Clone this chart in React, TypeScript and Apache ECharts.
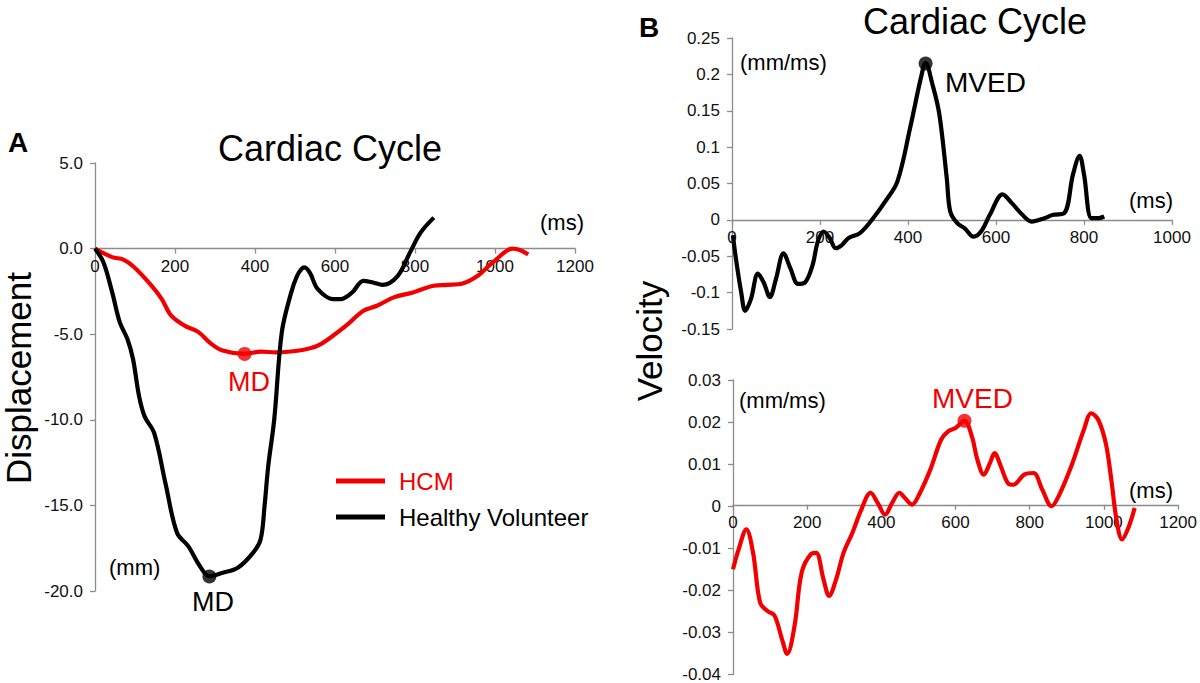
import React, { useEffect, useRef } from "react";
import * as echarts from "echarts";

const FONT = "'Liberation Sans', Arial, Helvetica, sans-serif";
const RED = "#f20000";
const BLACK = "#000000";
const AXIS = "#8c8c8c";

// Panel A: displacement (mm) vs time (ms)
const hcmDisplacement: [number, number][] = [
  [0, 0], [43, -0.5], [71, -0.64], [96, -1.05], [138, -2.08], [167, -2.95], [190, -3.9],
  [224, -4.5], [257, -4.85], [290, -5.55], [319, -5.95], [374, -6.15], [414, -6.02],
  [452, -6.06], [519, -5.92], [557, -5.67], [595, -5.09], [633, -4.4], [671, -3.63],
  [705, -3.34], [747, -2.85], [795, -2.56], [847, -2.17], [881, -2.12], [919, -2.04],
  [957, -1.59], [987, -0.95], [1005, -0.6], [1025, -0.2], [1043, 0], [1062, -0.08], [1083, -0.35],
];
const healthyDisplacement: [number, number][] = [
  [0, 0], [21, -0.8], [43, -2.56], [62, -4.31], [81, -5.28], [95, -6.45], [110, -8.6],
  [124, -9.8], [148, -10.78], [176, -13.69], [205, -16.6], [233, -17.38], [262, -18.54],
  [286, -19.13], [319, -18.93], [357, -18.64], [395, -17.77], [414, -16.99], [424, -15],
  [433, -12.72], [448, -10], [467, -4.89], [490, -2.6], [505, -1.6], [516, -1.2], [524, -1.1],
  [538, -1.45], [557, -2.37], [595, -2.95], [614, -2.95], [643, -2.56], [671, -1.88], [695, -1.98],
  [719, -2.12], [757, -1.59], [787, -0.25], [814, 0.93], [847, 1.81],
];
const mdHcm: [number, number] = [374, -6.15];
const mdHealthy: [number, number] = [286, -19.15];

// Panel B: velocity (mm/ms) vs time (ms)
const healthyVelocity: [number, number][] = [
  [2, -0.021], [10, -0.058], [21, -0.1], [30, -0.125], [43, -0.109], [59, -0.074],
  [72, -0.086], [86, -0.106], [100, -0.081], [117, -0.046], [133, -0.067], [150, -0.088],
  [166, -0.086], [183, -0.0625], [195, -0.03], [208, -0.016], [222, -0.025], [236, -0.039],
  [249, -0.035], [265, -0.025], [290, -0.0185], [315, -0.0023], [348, 0.025], [376, 0.053],
  [405, 0.127], [430, 0.197], [440, 0.216], [455, 0.1875], [471, 0.146], [488, 0.058],
  [496, 0.0116], [512, -0.0046], [529, -0.0116], [549, -0.023], [566, -0.016], [586, 0.007],
  [615, 0.035], [636, 0.023], [660, 0.007], [681, -0.0023], [710, 0.0023], [730, 0.007],
  [755, 0.009], [775, 0.0625], [790, 0.088], [800, 0.0625], [817, 0.0023], [833, 0.0023],
  [846, 0.0046],
];
const hcmVelocity: [number, number][] = [
  [0, -0.015], [15, -0.0103], [36, -0.0055], [54, -0.011], [73, -0.0229], [93, -0.0249],
  [112, -0.026], [132, -0.0316], [146, -0.0351], [166, -0.0284], [185, -0.0158], [210, -0.0114],
  [224, -0.0111], [244, -0.0174], [259, -0.0213], [278, -0.0174], [298, -0.0111], [322, -0.0063],
  [346, -0.0008], [371, 0.0032], [390, 0.0008], [410, -0.002], [429, 0.0008], [449, 0.0032],
  [463, 0.002], [483, 0.0004], [502, 0.0028], [532, 0.0087], [561, 0.0158], [580, 0.0178],
  [600, 0.0186], [624, 0.0203], [644, 0.0166], [659, 0.011], [676, 0.0075], [693, 0.0103],
  [705, 0.0126], [722, 0.0095], [741, 0.0055], [756, 0.0051], [785, 0.0075], [810, 0.0079],
  [834, 0.0039], [859, 0], [878, 0.0024], [912, 0.0095], [946, 0.0182], [966, 0.0221],
  [985, 0.0205], [1005, 0.015], [1020, 0.0063], [1034, -0.0032], [1049, -0.0079],
  [1066, -0.0051], [1083, -0.0004],
];
const mvedHealthy: [number, number] = [440, 0.215];
const mvedHcm: [number, number] = [624, 0.0203];

const legendNames = ["HCM", "Healthy Volunteer"];

// grid boxes (layout)
const GRIDS = [
  { left: 95, top: 163, width: 480, height: 428, xMax: 1200, yMin: -20, yMax: 5, yInt: 5 },
  { left: 732, top: 38, width: 440, height: 291, xMax: 1000, yMin: -0.15, yMax: 0.25, yInt: 0.05 },
  { left: 733, top: 380, width: 447, height: 297, xMax: 1200, yMin: -0.04, yMax: 0.03, yInt: 0.01 },
];

export default function App() {
  const ref = useRef<HTMLDivElement>(null);

  useEffect(() => {
    document.body.style.margin = "0";
    const chart = echarts.init(ref.current!, null, { renderer: "svg" });

    const xAxisBase = (gridIndex: number) => {
      const g = GRIDS[gridIndex];
      // place the x axis on y = 0 (line, ticks and labels together)
      const zeroFromBottom = (g.height * (0 - g.yMin)) / (g.yMax - g.yMin);
      return {
        type: "value" as const,
        gridIndex,
        min: 0,
        max: g.xMax,
        interval: 200,
        position: "bottom" as const,
        offset: -zeroFromBottom,
        axisLine: { show: true, onZero: false, lineStyle: { color: AXIS, width: 1.3 } },
        axisTick: { show: true, length: 5, lineStyle: { color: AXIS, width: 1.3 } },
        axisLabel: {
          fontSize: 17,
          color: "#111",
          margin: 9,
          fontFamily: FONT,
          formatter: (v: number) => String(v),
        },
        splitLine: { show: false },
      };
    };
    const yAxisBase = (gridIndex: number, fmt: (v: number) => string) => {
      const g = GRIDS[gridIndex];
      return {
        type: "value" as const,
        gridIndex,
        min: g.yMin,
        max: g.yMax,
        interval: g.yInt,
        axisLine: { show: true, onZero: false, lineStyle: { color: AXIS, width: 1.3 } },
        axisTick: { show: true, length: 5, lineStyle: { color: AXIS, width: 1.3 } },
        axisLabel: { fontSize: 17, color: "#111", margin: 12, fontFamily: FONT, formatter: fmt },
        splitLine: { show: false },
      };
    };

    const line = (name: string, data: [number, number][], color: string, idx: number) => ({
      name,
      type: "line" as const,
      xAxisIndex: idx,
      yAxisIndex: idx,
      data,
      smooth: 0.35,
      showSymbol: false,
      symbol: "none",
      lineStyle: { color, width: 4.2 },
      itemStyle: { color },
      z: 3,
    });
    const dot = (name: string, point: [number, number], color: string, idx: number) => ({
      name,
      type: "scatter" as const,
      xAxisIndex: idx,
      yAxisIndex: idx,
      data: [point],
      symbolSize: 14,
      itemStyle: { color },
      z: 5,
    });

    const txt = (text: string, x: number, y: number, size: number, color: string, opts: any = {}) => ({
      type: "text",
      x,
      y,
      rotation: opts.rotation || 0,
      style: {
        text,
        fill: color,
        fontSize: size,
        fontFamily: FONT,
        fontWeight: opts.bold ? "bold" : "normal",
        align: opts.align || "left",
        verticalAlign: "middle",
      },
      z: 10,
    });

    const trim = (v: number) => String(parseFloat(v.toFixed(4)));

    chart.setOption({
      animation: false,
      backgroundColor: "#ffffff",
      grid: GRIDS.map((g) => ({ left: g.left, top: g.top, width: g.width, height: g.height })),
      xAxis: [xAxisBase(0), xAxisBase(1), xAxisBase(2)],
      yAxis: [
        yAxisBase(0, (v: number) => v.toFixed(1)),
        yAxisBase(1, trim),
        yAxisBase(2, trim),
      ],
      legend: {
        orient: "vertical",
        left: 336,
        top: 469,
        padding: 0,
        itemWidth: 49,
        itemHeight: 5,
        itemGap: 12,
        icon: "rect",
        selectedMode: false,
        data: [
          { name: legendNames[0], textStyle: { color: RED } },
          { name: legendNames[1], textStyle: { color: BLACK } },
        ],
        textStyle: { fontSize: 24, fontFamily: FONT, color: BLACK, padding: [0, 0, 0, 9] },
      },
      series: [
        line(legendNames[0], hcmDisplacement, RED, 0),
        line(legendNames[1], healthyDisplacement, BLACK, 0),
        dot("MD HCM", mdHcm, RED, 0),
        dot("MD Healthy", mdHealthy, BLACK, 0),
        line("Healthy velocity", healthyVelocity, BLACK, 1),
        dot("MVED Healthy", mvedHealthy, BLACK, 1),
        line("HCM velocity", hcmVelocity, RED, 2),
        dot("MVED HCM", mvedHcm, RED, 2),
      ],
      graphic: [
        txt("A", 8, 142, 28, BLACK, { bold: true }),
        txt("B", 639, 27, 28, BLACK, { bold: true }),
        txt("Cardiac Cycle", 330, 148, 36, BLACK, { align: "center" }),
        txt("Cardiac Cycle", 975, 21, 36, BLACK, { align: "center" }),
        txt("Displacement", 18, 378, 35, BLACK, { align: "center", rotation: Math.PI / 2 }),
        txt("Velocity", 649, 341, 35, BLACK, { align: "center", rotation: Math.PI / 2 }),
        txt("(ms)", 540, 222, 22, BLACK),
        txt("(mm)", 109, 567, 22, BLACK),
        txt("MD", 249, 382, 27, RED, { align: "center" }),
        txt("MD", 213, 602, 27, BLACK, { align: "center" }),
        txt("(mm/ms)", 740, 62, 22, BLACK),
        txt("MVED", 945, 82, 28, BLACK),
        txt("(ms)", 1129, 200, 22, BLACK),
        txt("(mm/ms)", 739, 400, 22, BLACK),
        txt("MVED", 932, 398, 28, RED),
        txt("(ms)", 1129, 490, 22, BLACK),
      ],
    });

    return () => chart.dispose();
  }, []);

  return <div ref={ref} style={{ width: 1200, height: 683, background: "#fff" }} />;
}
